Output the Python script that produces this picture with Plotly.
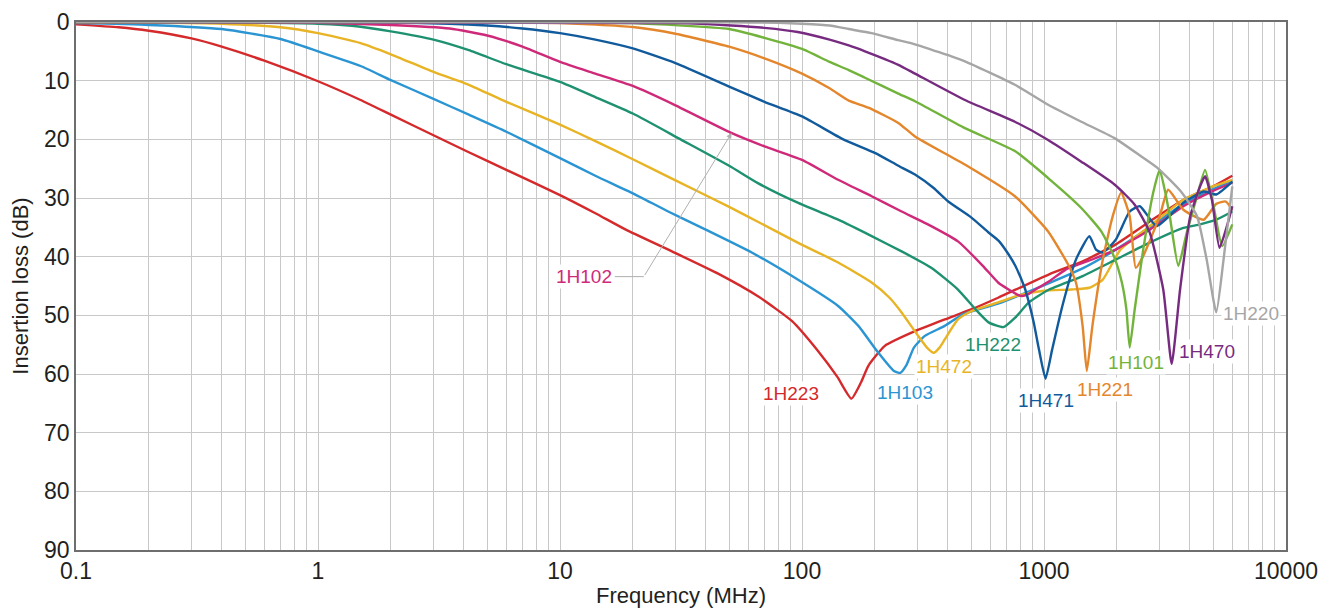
import numpy as np
import plotly.graph_objects as go

# ---------------- data ----------------
f_1H223 = [0.1, 0.15, 0.2, 0.3, 0.4, 0.6, 1, 1.5, 2, 3, 4.2, 6, 10, 14, 18.7, 29, 45, 66, 91, 116, 140, 160, 175, 188, 220, 293, 389, 500, 646, 1050, 1444, 1980, 2735, 3767, 5000, 6000]
db_1H223 = [0.4, 0.9, 1.5, 2.8, 4.2, 6.6, 10.1, 13.3, 15.8, 19.3, 22.2, 25.2, 29.5, 32.6, 35.4, 39.1, 42.9, 46.8, 51.0, 56.0, 60.5, 64.2, 61.5, 58.6, 55.2, 52.7, 50.7, 49.0, 47.0, 43.0, 40.8, 37.9, 34.0, 30.3, 28.0, 26.2]

f_1H103 = [0.1, 0.2, 0.4, 0.7, 1, 1.5, 2, 3, 4.2, 6, 10, 14, 20, 28, 40, 62, 96, 141, 171, 206, 240, 255, 270, 290, 322, 389, 464, 646, 1050, 1444, 1980, 2735, 3767, 5000, 6000]
db_1H103 = [0.2, 0.5, 1.2, 2.9, 5.0, 7.5, 9.9, 13.1, 15.8, 18.7, 23.2, 26.2, 29.2, 32.3, 35.4, 39.3, 43.9, 48.4, 51.8, 56.3, 59.5, 59.8, 58.5, 55.5, 53.5, 51.8, 49.8, 48.0, 44.5, 42.0, 38.8, 35.0, 31.0, 28.5, 27.0]

f_1H472 = [0.1, 0.2, 0.4, 0.7, 1, 1.5, 2, 3, 4.2, 6, 10, 14, 20, 30, 50, 66, 96, 141, 194, 230, 258, 302, 330, 350, 370, 389, 441, 500, 646, 800, 1000, 1300, 1540, 1750, 2070, 2735, 3767, 5000, 6000]
db_1H472 = [0.05, 0.1, 0.3, 0.9, 1.9, 3.6, 5.5, 8.5, 10.7, 13.6, 17.5, 20.3, 23.4, 27.0, 31.5, 34.1, 37.6, 41.0, 44.4, 47.0, 49.5, 53.5, 55.6, 56.4, 55.5, 54.1, 50.7, 49.3, 47.8, 46.5, 45.8, 45.6, 45.3, 43.9, 38.8, 34.8, 30.3, 28.0, 26.9]

f_1H222 = [0.1, 0.4, 1, 1.5, 2, 3, 4.2, 6, 10, 14, 20, 31.5, 50, 66, 96, 141, 194, 258, 342, 441, 530, 590, 680, 760, 866, 1050, 1444, 1980, 2735, 3767, 4417, 5150, 6000]
db_1H222 = [0.0, 0.05, 0.3, 0.8, 1.6, 3.0, 4.8, 7.2, 10.2, 12.8, 15.6, 20.0, 24.5, 27.5, 30.8, 33.7, 36.5, 39.1, 41.9, 45.6, 49.3, 51.2, 52.0, 50.4, 47.8, 45.6, 43.3, 40.5, 37.6, 35.1, 34.5, 33.7, 32.3]

f_1H102 = [0.1, 0.5, 1, 2, 3.5, 5, 7, 10, 14, 20, 30, 51, 70, 100, 141, 194, 258, 342, 441, 560, 646, 714, 780, 811, 860, 922, 1050, 1230, 1600, 1980, 2735, 3767, 5000, 6000]
db_1H102 = [0.0, 0.05, 0.15, 0.5, 1.1, 2.3, 4.2, 6.8, 8.8, 10.9, 14.2, 18.9, 21.2, 23.5, 26.9, 29.7, 32.3, 34.8, 37.4, 41.6, 44.4, 45.6, 46.5, 46.7, 46.4, 45.6, 44.2, 42.2, 40.4, 38.8, 35.4, 31.4, 28.8, 27.4]

f_1H471 = [0.1, 1, 2, 3.5, 5, 7, 10, 14, 20, 30, 50, 70, 100, 148, 200, 250, 293, 350, 402, 500, 587, 650, 711, 760, 832, 866, 910, 953, 1015, 1081, 1191, 1355, 1540, 1640, 1750, 1980, 2260, 2490, 2920, 3767, 4570, 5150, 6000]
db_1H471 = [0.0, 0.02, 0.1, 0.3, 0.6, 1.1, 1.9, 3.0, 4.5, 7.0, 11.0, 13.6, 16.1, 20.0, 22.3, 24.5, 26.0, 28.3, 30.6, 33.3, 35.8, 37.3, 39.5, 41.5, 45.3, 47.8, 51.5, 55.8, 60.8, 55.8, 48.4, 40.5, 36.5, 38.8, 39.3, 37.1, 32.3, 31.4, 34.8, 30.8, 28.9, 29.4, 27.2]

f_1H221 = [0.1, 5, 10, 14, 20, 30, 50, 70, 100, 130, 156, 188, 250, 293, 471, 758, 1040, 1256, 1355, 1444, 1503, 1585, 1750, 1923, 2083, 2260, 2394, 2570, 3006, 3260, 3767, 4570, 5150, 5640, 6000]
db_1H221 = [0.0, 0.05, 0.2, 0.45, 0.85, 2.0, 4.2, 6.2, 8.8, 11.3, 13.4, 14.6, 17.2, 19.5, 24.3, 29.7, 35.7, 41.3, 44.4, 51.8, 59.5, 51.8, 40.5, 33.1, 29.1, 33.1, 41.9, 39.9, 33.1, 28.6, 32.0, 33.7, 31.0, 30.6, 32.0]

f_1H101 = [0.1, 10, 20, 50, 70, 100, 130, 156, 182, 250, 293, 471, 758, 1040, 1426, 1725, 1956, 2100, 2190, 2260, 2370, 2570, 2826, 3006, 3150, 3310, 3590, 3890, 4290, 4630, 5020, 5450, 6000]
db_1H101 = [0.0, 0.05, 0.2, 1.2, 2.7, 4.6, 6.8, 8.2, 9.5, 12.2, 13.5, 18.1, 22.0, 26.6, 31.7, 35.7, 40.2, 44.5, 49.0, 55.5, 49.0, 38.8, 29.1, 25.2, 28.5, 33.1, 41.6, 35.9, 29.7, 25.2, 31.4, 38.2, 34.5]

f_1H470 = [0.1, 30, 51, 70, 96, 130, 156, 182, 250, 293, 471, 758, 1040, 1426, 1956, 2366, 2735, 3110, 3370, 3650, 4020, 4417, 4630, 4940, 5310, 5700, 6000]
db_1H470 = [0.0, 0.2, 0.6, 1.0, 1.7, 3.0, 4.0, 5.0, 7.3, 8.8, 13.3, 17.0, 20.1, 23.8, 27.7, 31.1, 35.9, 45.6, 58.3, 45.6, 33.1, 28.0, 26.3, 30.3, 38.5, 34.8, 31.4]

f_1H220 = [0.1, 50, 80, 100, 130, 156, 194, 250, 293, 471, 758, 1040, 1426, 1956, 2500, 2950, 3680, 4290, 4700, 5150, 5520, 6000]
db_1H220 = [0.0, 0.05, 0.15, 0.3, 0.6, 1.2, 1.9, 3.1, 3.8, 6.7, 10.7, 14.1, 17.0, 19.8, 22.8, 24.9, 28.9, 33.1, 40.5, 49.5, 40.5, 28.0]

series_names = ["1H223", "1H103", "1H472", "1H222", "1H102", "1H471", "1H221", "1H101", "1H470", "1H220"]
series_colors = ["#d42a2c", "#2b95d3", "#e8b425", "#1e9170", "#cf2a7a", "#115a9c", "#e4862b", "#72b33c", "#772b80", "#a6a6a6"]

# label anchor positions (frequency MHz, dB)
label_freq = [89.8, 267, 387, 616, 1018, 1786, 2393, 4700, 7140, 12.6]
label_db = [63.3, 63.1, 58.8, 54.9, 64.6, 62.6, 58.0, 56.1, 49.7, 43.4]
label_names = ["1H223", "1H103", "1H472", "1H222", "1H471", "1H221", "1H101", "1H470", "1H220", "1H102"]
label_colors = ["#d42a2c", "#2b95d3", "#e8b425", "#1e9170", "#115a9c", "#e4862b", "#72b33c", "#772b80", "#a6a6a6", "#cf2a7a"]

# leader for 1H102: label edge -> elbow -> curve point
leader_freq = [16.6, 22.2, 51.2]
leader_db = [43.4, 43.4, 18.9]

x_tickvals = [0.1, 1, 10, 100, 1000, 10000]
x_ticktext = ["0.1", "1", "10", "100", "1000", "10000"]
y_tickvals = [0, 10, 20, 30, 40, 50, 60, 70, 80, 90]

data = {
    "1H223": (f_1H223, db_1H223), "1H103": (f_1H103, db_1H103),
    "1H472": (f_1H472, db_1H472), "1H222": (f_1H222, db_1H222),
    "1H102": (f_1H102, db_1H102), "1H471": (f_1H471, db_1H471),
    "1H221": (f_1H221, db_1H221), "1H101": (f_1H101, db_1H101),
    "1H470": (f_1H470, db_1H470), "1H220": (f_1H220, db_1H220),
}

FONT = "Liberation Sans, Arial, Helvetica, sans-serif"
GRID = "#c8c8c8"

fig = go.Figure()
for name, color in zip(series_names, series_colors):
    fx, fy = data[name]
    fig.add_trace(go.Scatter(x=fx, y=fy, mode="lines", name=name,
                             line=dict(color=color, width=2.4, shape="spline", smoothing=0.5),
                             hoverinfo="x+y+name"))

# 1H102 leader line pieces
fig.add_annotation(x=np.log10(leader_freq[1]), y=leader_db[1],
                   ax=np.log10(leader_freq[0]), ay=leader_db[0],
                   xref="x", yref="y", axref="x", ayref="y",
                   text="", showarrow=True, arrowhead=0, arrowwidth=1, arrowcolor="#b0b0b0")
fig.add_annotation(x=np.log10(leader_freq[2]), y=leader_db[2],
                   ax=np.log10(leader_freq[1]), ay=leader_db[1],
                   xref="x", yref="y", axref="x", ayref="y",
                   text="", showarrow=True, arrowhead=2, arrowsize=1.1, arrowwidth=1,
                   arrowcolor="#b0b0b0", standoff=0)

for nm, lf, ld, lc in zip(label_names, label_freq, label_db, label_colors):
    fig.add_annotation(x=np.log10(lf), y=ld, xref="x", yref="y", text=nm, showarrow=False,
                       font=dict(family=FONT, size=19, color=lc), bgcolor="white", borderpad=1)

# page body has an 8 px default margin, so the figure is sized to fit inside it
fig.update_layout(
    width=1319, height=600,
    margin=dict(l=68, r=41, t=14, b=58),
    paper_bgcolor="white", plot_bgcolor="white",
    showlegend=False,
    font=dict(family=FONT, color="#231f20", size=22),
)
fig.update_xaxes(type="log", range=[-1, 4], tickvals=x_tickvals, ticktext=x_ticktext,
                 automargin=False,
                 showgrid=True, gridcolor=GRID, gridwidth=1,
                 minor=dict(dtick="D1", showgrid=True, gridcolor=GRID, gridwidth=1, ticks=""),
                 showline=True, linecolor="#6e6e6e", linewidth=1.5, mirror=True,
                 ticks="", tickfont=dict(size=23),
                 title=dict(text="Frequency (MHz)", font=dict(size=22), standoff=12))
fig.update_yaxes(range=[90, 0], tickvals=y_tickvals, automargin=False,
                 showgrid=True, gridcolor=GRID, gridwidth=1, zeroline=False,
                 showline=True, linecolor="#6e6e6e", linewidth=1.5, mirror=True,
                 ticks="", tickfont=dict(size=23),
                 title=dict(text="Insertion loss (dB)", font=dict(size=22), standoff=9))

fig.write_html("out.html")
